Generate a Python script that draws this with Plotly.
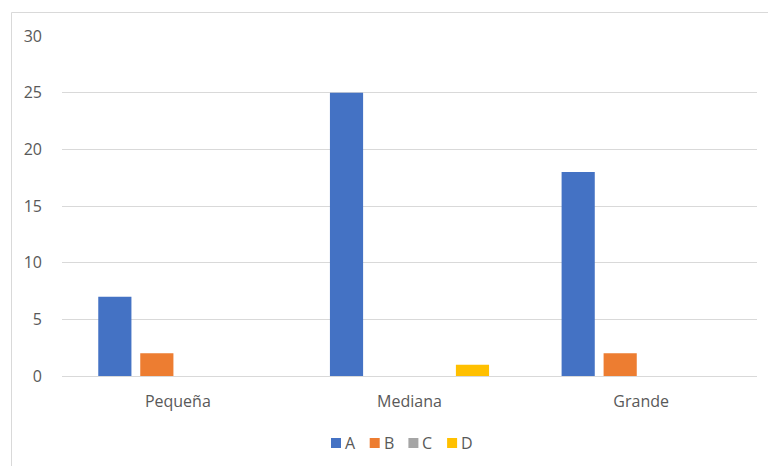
import plotly.graph_objects as go

# Categories and series values
categorias = ["Pequeña", "Mediana", "Grande"]
serie_a = [7, 25, 18]
serie_b = [2, 0, 2]
serie_c = [0, 0, 0]
serie_d = [0, 1, 0]
nombres = ["A", "B", "C", "D"]
colores = ["#4472C4", "#ED7D31", "#A5A5A5", "#FFC000"]

fig = go.Figure()
for nombre, valores, color in zip(nombres, [serie_a, serie_b, serie_c, serie_d], colores):
    fig.add_trace(go.Bar(
        name=nombre, x=categorias, y=valores,
        marker=dict(color=color, line=dict(width=0)),
        showlegend=False,
    ))

W, H = 768, 466
ml, mr, mt, mb = 62, 11, 36, 90
pw, ph = W - ml - mr, H - mt - mb

def px_x(p):
    return (p - ml) / pw

def px_y(p):
    return (H - mb - p) / ph

font_color = "#595959"
fam = "Open Sans, sans-serif"
fs = 16

# Chart frame
shapes = [dict(type="rect", xref="paper", yref="paper",
               x0=px_x(11.5), x1=px_x(775), y0=px_y(475), y1=px_y(12.5),
               line=dict(color="#D9D9D9", width=1), layer="below")]
annotations = []

# Legend row, centred under the plot: colour square followed by series name
paso = 38.7
x_inicio = 331
y_centro = 443
for i, (nombre, color) in enumerate(zip(nombres, colores)):
    x0 = x_inicio + i * paso
    shapes.append(dict(type="rect", xref="paper", yref="paper",
                       x0=px_x(x0), x1=px_x(x0 + 10), y0=px_y(y_centro + 5), y1=px_y(y_centro - 5),
                       fillcolor=color, line=dict(width=0)))
    annotations.append(dict(text=nombre, xref="paper", yref="paper",
                            x=px_x(x0 + 12), y=px_y(y_centro), xanchor="left", yanchor="middle",
                            showarrow=False, font=dict(family=fam, size=fs, color=font_color)))

fig.update_layout(
    width=W, height=H,
    margin=dict(l=ml, r=mr, t=mt, b=mb),
    paper_bgcolor="white", plot_bgcolor="white",
    font=dict(family=fam, size=fs, color=font_color),
    barmode="group", bargap=0.275, bargroupgap=0.21,
    showlegend=False,
    xaxis=dict(showgrid=False, showline=False, zeroline=False, ticks="",
               ticklabelstandoff=14,
               tickfont=dict(family=fam, size=fs, color=font_color)),
    yaxis=dict(range=[0, 30], dtick=5, showgrid=True, gridcolor="#D9D9D9", gridwidth=1,
               zeroline=True, zerolinecolor="#D9D9D9", zerolinewidth=1,
               showline=False, ticks="", ticklabelstandoff=19,
               tickfont=dict(family=fam, size=fs, color=font_color)),
    shapes=shapes,
    annotations=annotations,
)

fig.write_html("out.html")
